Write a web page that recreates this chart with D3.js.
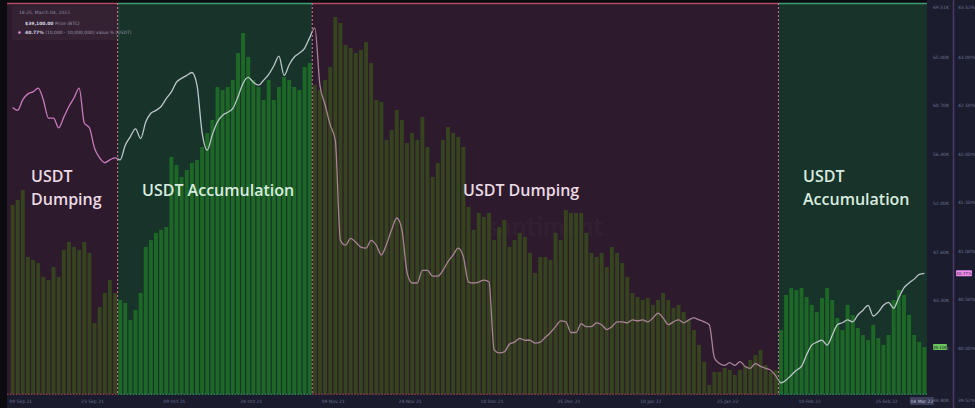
<!DOCTYPE html>
<html>
<head>
<meta charset="utf-8">
<script src="https://cdn.jsdelivr.net/npm/d3@7/dist/d3.min.js"></script>
<style>
html,body{margin:0;padding:0;background:#0b0b10;overflow:hidden}
svg{display:block}
</style>
</head>
<body>
<svg id="chart" width="975" height="408"></svg>
<script>
// ---------- DATA ----------
const firstDay = "2021-09-07";   // one bar / point per day
const lastDayEnd = "2022-03-05";

// BTC price (bars)
const btcPrice = [
51800,52250,53140,47150,46880,46610,45360,45090,46260,45360,
47780,48490,48050,47780,48490,47510,41250,42680,43930,45090,
43930,43300,43040,41520,42410,43930,48050,48670,49300,49570,
49830,56100,55380,54310,54930,55560,55830,56990,58240,59410,
62360,62090,62360,62980,65400,67190,65040,62980,62360,61190,
62980,61190,62360,63250,62980,62360,62090,64150,64500,62540,
62090,62980,64150,68620,68080,66110,65850,65400,65670,66380,
64500,61190,61020,57620,58510,60300,59410,57350,58240,57620,
59670,56990,54310,55560,57620,58780,58240,57890,56990,51620,
49570,51090,50730,51090,48670,49830,50460,48050,48670,49300,
48940,47510,45720,47150,47150,46880,49300,48670,51350,51090,
51090,51090,49300,47510,47150,47510,46260,48050,47510,46610,
45360,43930,43570,43300,43480,42860,43300,43930,43300,42590,
42860,42230,41520,40620,39280,37760,35700,36860,36860,37220,
37040,36600,37040,37400,37940,38380,38830,37490,36860,37040,
40620,43750,44380,44200,44380,43570,42860,42230,43480,44380,
43300,41690,40620,42860,41960,40800,40170,39730,41070,39900,
39280,40170,43300,44200,43750,41960,40170,39550,39100
];

// % of USDT supply held by 10,000 - 10,000,000 addresses (line)
const usdtShare = [
42.48,42.45,42.56,42.62,42.64,42.68,42.56,42.37,42.37,42.27,
42.38,42.49,42.58,42.68,42.32,42.27,42.06,41.96,41.91,41.94,
41.96,41.94,42.09,42.18,42.26,42.16,42.33,42.42,42.45,42.49,
42.57,42.64,42.74,42.78,42.81,42.84,42.71,42.22,42.04,42.20,
42.33,42.40,42.43,42.47,42.59,42.73,42.79,42.74,42.71,42.76,
42.82,42.91,43.01,42.81,42.92,43.00,43.04,43.09,43.20,43.30,
42.71,42.51,42.30,42.14,41.11,41.06,41.13,41.09,41.04,41.03,
41.11,41.06,40.96,41.07,41.22,41.34,41.22,40.78,40.67,40.67,
40.80,40.80,40.74,40.74,40.80,40.89,40.96,41.03,40.94,40.68,
40.67,40.68,40.70,40.68,39.98,39.95,39.96,40.04,40.06,40.10,
40.08,40.08,40.05,40.06,40.11,40.16,40.22,40.28,40.27,40.16,
40.16,40.25,40.22,40.22,40.26,40.24,40.19,40.22,40.27,40.27,
40.26,40.29,40.28,40.29,40.27,40.31,40.36,40.31,40.24,40.27,
40.29,40.26,40.29,40.31,40.29,40.27,40.24,39.90,39.84,39.82,
39.85,39.82,39.86,39.81,39.79,39.84,39.81,39.79,39.77,39.71,
39.64,39.67,39.72,39.77,39.81,39.93,40.03,40.06,40.08,40.03,
40.13,40.24,40.26,40.29,40.27,40.34,40.39,40.44,40.33,40.37,
40.44,40.47,40.41,40.52,40.62,40.67,40.71,40.76,40.77
];

// regions
const regionStarts = ["2021-09-07","2021-09-28","2021-11-05","2022-02-04"];
const regionKinds  = ["dump","acc","dump","acc"];
const regionLabels = [["USDT","Dumping"],["USDT Accumulation"],["USDT Dumping"],["USDT","Accumulation"]];

// axis tick labels
const priceTicks = [39000,43300,47600,52000,56400,60700,65000];
const shareTicks = [40,40.5,41,41.5,42,42.5,43];
const dateTicks = ["2021-09-09","2021-09-23","2021-10-09","2021-10-24","2021-11-09","2021-11-24",
                   "2021-12-10","2021-12-25","2022-01-10","2022-01-25","2022-02-10","2022-02-25"];

// ---------- LAYOUT / STYLE ----------
const W = 975, H = 408;
const plotL = 7, barL = 10, plotR = 927, plotT = 3, plotB = 395;
const labelPos = [[31,182,205],[142,196],[463,196],[803,182,205]];
const C = {
  dumpBg:"#2d1a2c", accBg:"#17332a",
  dumpBar:"#36431f", accBar:"#1e6827",
  dumpLine:["#c77bbd","#a88396"], accLine:"#bcc6ca",
  dumpBorder:"#b04a62", accBorder:"#3f9a76",
  dumpText:"#eadbe4", accText:"#d9ecdf",
  panel:"#1b1d2f", axisText:"#6d7192"
};

const parse = d3.utcParse("%Y-%m-%d");
const days = btcPrice.map((_, i) => d3.utcDay.offset(parse(firstDay), i));

const x = d3.scaleUtc().domain([parse(firstDay), parse(lastDayEnd)]).range([barL, plotR]);
const yP = d3.scaleLinear().domain([34800, 69870]).range([plotB, plotT]);
const yS = d3.scaleLinear().domain([40, 43]).range([348, 57]);
const dayW = x(days[1]) - x(days[0]);

const regions = regionStarts.map((s, i) => ({
  start: parse(s),
  end: i < regionStarts.length - 1 ? parse(regionStarts[i+1]) : parse(lastDayEnd),
  kind: regionKinds[i], label: regionLabels[i], idx: i
}));
const regionOf = d => regions.find(r => d >= r.start && d < r.end);
const rx0 = r => r.idx === 0 ? plotL : x(r.start);
const rx1 = r => x(r.end);

const svg = d3.select("#chart");
svg.append("rect").attr("width", W).attr("height", H).attr("fill", "#0b0b10");

// region backgrounds
svg.append("g").selectAll("rect").data(regions).join("rect")
  .attr("x", rx0).attr("y", plotT).attr("width", r => rx1(r) - rx0(r)).attr("height", plotB - plotT)
  .attr("fill", r => r.kind === "dump" ? C.dumpBg : C.accBg);

// legend box
svg.append("rect").attr("x", 12).attr("y", 6).attr("width", 108).attr("height", 34)
  .attr("fill", "#ffffff").attr("opacity", 0.035);

// watermark (very faint)
svg.append("text").attr("x", 545).attr("y", 236).attr("text-anchor", "middle")
  .attr("font-family", "Lato, sans-serif").attr("font-size", 26).attr("font-weight", 700)
  .attr("fill", "#ffffff").attr("opacity", 0.025).text("santiment");

// bars
svg.append("g").selectAll("rect").data(days).join("rect")
  .attr("x", d => x(d) + 0.6)
  .attr("width", dayW - 1.2)
  .attr("y", (d, i) => yP(btcPrice[i]))
  .attr("height", (d, i) => plotB - 1 - yP(btcPrice[i]))
  .attr("fill", d => regionOf(d).kind === "dump" ? C.dumpBar : C.accBar);

// line, coloured per region
const defs = svg.append("defs");
regions.forEach(r => {
  defs.append("clipPath").attr("id", "clip" + r.idx).append("rect")
    .attr("x", rx0(r)).attr("y", 0).attr("width", rx1(r) - rx0(r)).attr("height", H);
});
const line = d3.line()
  .x((d, i) => x(days[i]) + dayW / 2)
  .y(d => yS(d))
  .curve(d3.curveMonotoneX);
regions.forEach(r => {
  svg.append("path").datum(usdtShare).attr("d", line)
    .attr("fill", "none").attr("stroke-width", 1.3)
    .attr("stroke", r.kind === "acc" ? C.accLine : C.dumpLine[r.idx === 0 ? 0 : 1])
    .attr("clip-path", `url(#clip${r.idx})`);
});

// borders
regions.forEach(r => {
  const col = r.kind === "dump" ? C.dumpBorder : C.accBorder;
  svg.append("line").attr("x1", rx0(r)).attr("x2", rx1(r)).attr("y1", plotT + 0.5).attr("y2", plotT + 0.5)
    .attr("stroke", col).attr("stroke-width", 1.5);
  svg.append("line").attr("x1", rx0(r)).attr("x2", rx1(r)).attr("y1", plotB - 0.8).attr("y2", plotB - 0.8)
    .attr("stroke", col).attr("stroke-width", 1).attr("stroke-dasharray", "1.5,1.5");
  if (r.idx > 0) {
    svg.append("line").attr("x1", x(r.start)).attr("x2", x(r.start)).attr("y1", plotT).attr("y2", plotB)
      .attr("stroke", "#d27a92").attr("stroke-width", 1).attr("stroke-dasharray", "2,2");
  }
});

// region labels
regions.forEach((r, i) => {
  const p = labelPos[i];
  r.label.forEach((t, j) => {
    svg.append("text").attr("x", p[0]).attr("y", p[1 + j])
      .attr("font-family", "'Open Sans', sans-serif").attr("font-size", 16).attr("font-weight", 600)
      .attr("fill", r.kind === "dump" ? C.dumpText : C.accText).text(t);
  });
});

// right panel
svg.append("rect").attr("x", plotR).attr("y", 0).attr("width", W - plotR).attr("height", H).attr("fill", C.panel);
svg.append("line").attr("x1", 953.5).attr("x2", 953.5).attr("y1", 0).attr("y2", H)
  .attr("stroke", "#4b3b66").attr("stroke-width", 1.5);
// bottom strip
svg.append("rect").attr("x", plotL).attr("y", plotB).attr("width", plotR - plotL).attr("height", H - plotB).attr("fill", "#1a1c2e");

const fmtP = v => (v / 1000).toFixed(2) + "K";
const fmtS = v => v.toFixed(2) + "%";
function styleAxis(g, size) {
  g.select(".domain").remove();
  g.selectAll("text").attr("fill", C.axisText).attr("font-size", size).attr("font-family", "'DejaVu Sans', sans-serif");
}
svg.append("g").attr("transform", `translate(${plotR},0)`)
  .call(d3.axisRight(yP).tickValues(priceTicks).tickSize(0).tickPadding(6).tickFormat(fmtP))
  .call(g => styleAxis(g, 4.5));
svg.append("g").attr("transform", `translate(954,0)`)
  .call(d3.axisRight(yS).tickValues(shareTicks).tickSize(0).tickPadding(4).tickFormat(fmtS))
  .call(g => styleAxis(g, 4.5));
// top and bottom scale edge labels
[[933, yP, fmtP], [958, yS, fmtS]].forEach(([tx, sc, f]) => {
  svg.append("text").attr("x", tx).attr("y", 9).attr("font-size", 4.5).attr("fill", C.axisText)
    .attr("font-family", "'DejaVu Sans', sans-serif").text(f(sc.invert(7)));
  svg.append("text").attr("x", tx).attr("y", 402).attr("font-size", 4.5).attr("fill", C.axisText)
    .attr("font-family", "'DejaVu Sans', sans-serif").text(f(sc.invert(plotB)));
});

// bottom date axis
svg.append("g").attr("transform", `translate(0,${plotB + 2})`)
  .call(d3.axisBottom(x).tickValues(dateTicks.map(parse)).tickSize(0).tickPadding(3)
    .tickFormat(d3.utcFormat("%d %b %y")))
  .call(g => styleAxis(g, 4.5));

// last value markers
const lastP = btcPrice[btcPrice.length - 1], lastS = usdtShare[usdtShare.length - 1];
svg.append("rect").attr("x", 933).attr("y", yP(lastP) - 3).attr("width", 14).attr("height", 6).attr("rx", 1).attr("fill", "#6cc45e");
svg.append("text").attr("x", 940).attr("y", yP(lastP) + 1.6).attr("text-anchor", "middle").attr("font-size", 4.2)
  .attr("font-family", "'DejaVu Sans', sans-serif").attr("fill", "#12301a").text(fmtP(lastP));
svg.append("rect").attr("x", 956).attr("y", yS(lastS) - 3).attr("width", 16).attr("height", 6).attr("rx", 1).attr("fill", "#ec8fec");
svg.append("text").attr("x", 964).attr("y", yS(lastS) + 1.6).attr("text-anchor", "middle").attr("font-size", 4.2)
  .attr("font-family", "'DejaVu Sans', sans-serif").attr("fill", "#3a1040").text(fmtS(lastS));
// current date box
const lastDay = days[days.length - 1];
svg.append("rect").attr("x", x(lastDay) - 12).attr("y", 397).attr("width", 24).attr("height", 8).attr("fill", "#3a3e58");
svg.append("text").attr("x", x(lastDay)).attr("y", 402.6).attr("text-anchor", "middle").attr("font-size", 4.5)
  .attr("font-family", "'DejaVu Sans', sans-serif").attr("fill", "#c0c4d8").text(d3.utcFormat("%d %b %y")(lastDay));

// legend
const lg = svg.append("g").attr("font-family", "'DejaVu Sans', sans-serif").attr("font-size", 4.5);
lg.append("text").attr("x", 19).attr("y", 14).attr("fill", "#8d8aa3").text("18:25, March 04, 2022");
const l1 = lg.append("text").attr("x", 25).attr("y", 25).attr("fill", "#9a96ad");
l1.append("tspan").attr("font-weight", 700).attr("fill", "#d8d4e2").text("$" + d3.format(",.2f")(lastP));
l1.append("tspan").text(" Price (BTC)");
lg.append("circle").attr("cx", 19.5).attr("cy", 32.5).attr("r", 1.2).attr("fill", "#ec8fec");
const l2 = lg.append("text").attr("x", 25).attr("y", 34).attr("fill", "#9a96ad");
l2.append("tspan").attr("font-weight", 700).attr("fill", "#d8d4e2").text(fmtS(lastS));
l2.append("tspan").text(" (10,000 - 10,000,000) value % (USDT)");
</script>
</body>
</html>
